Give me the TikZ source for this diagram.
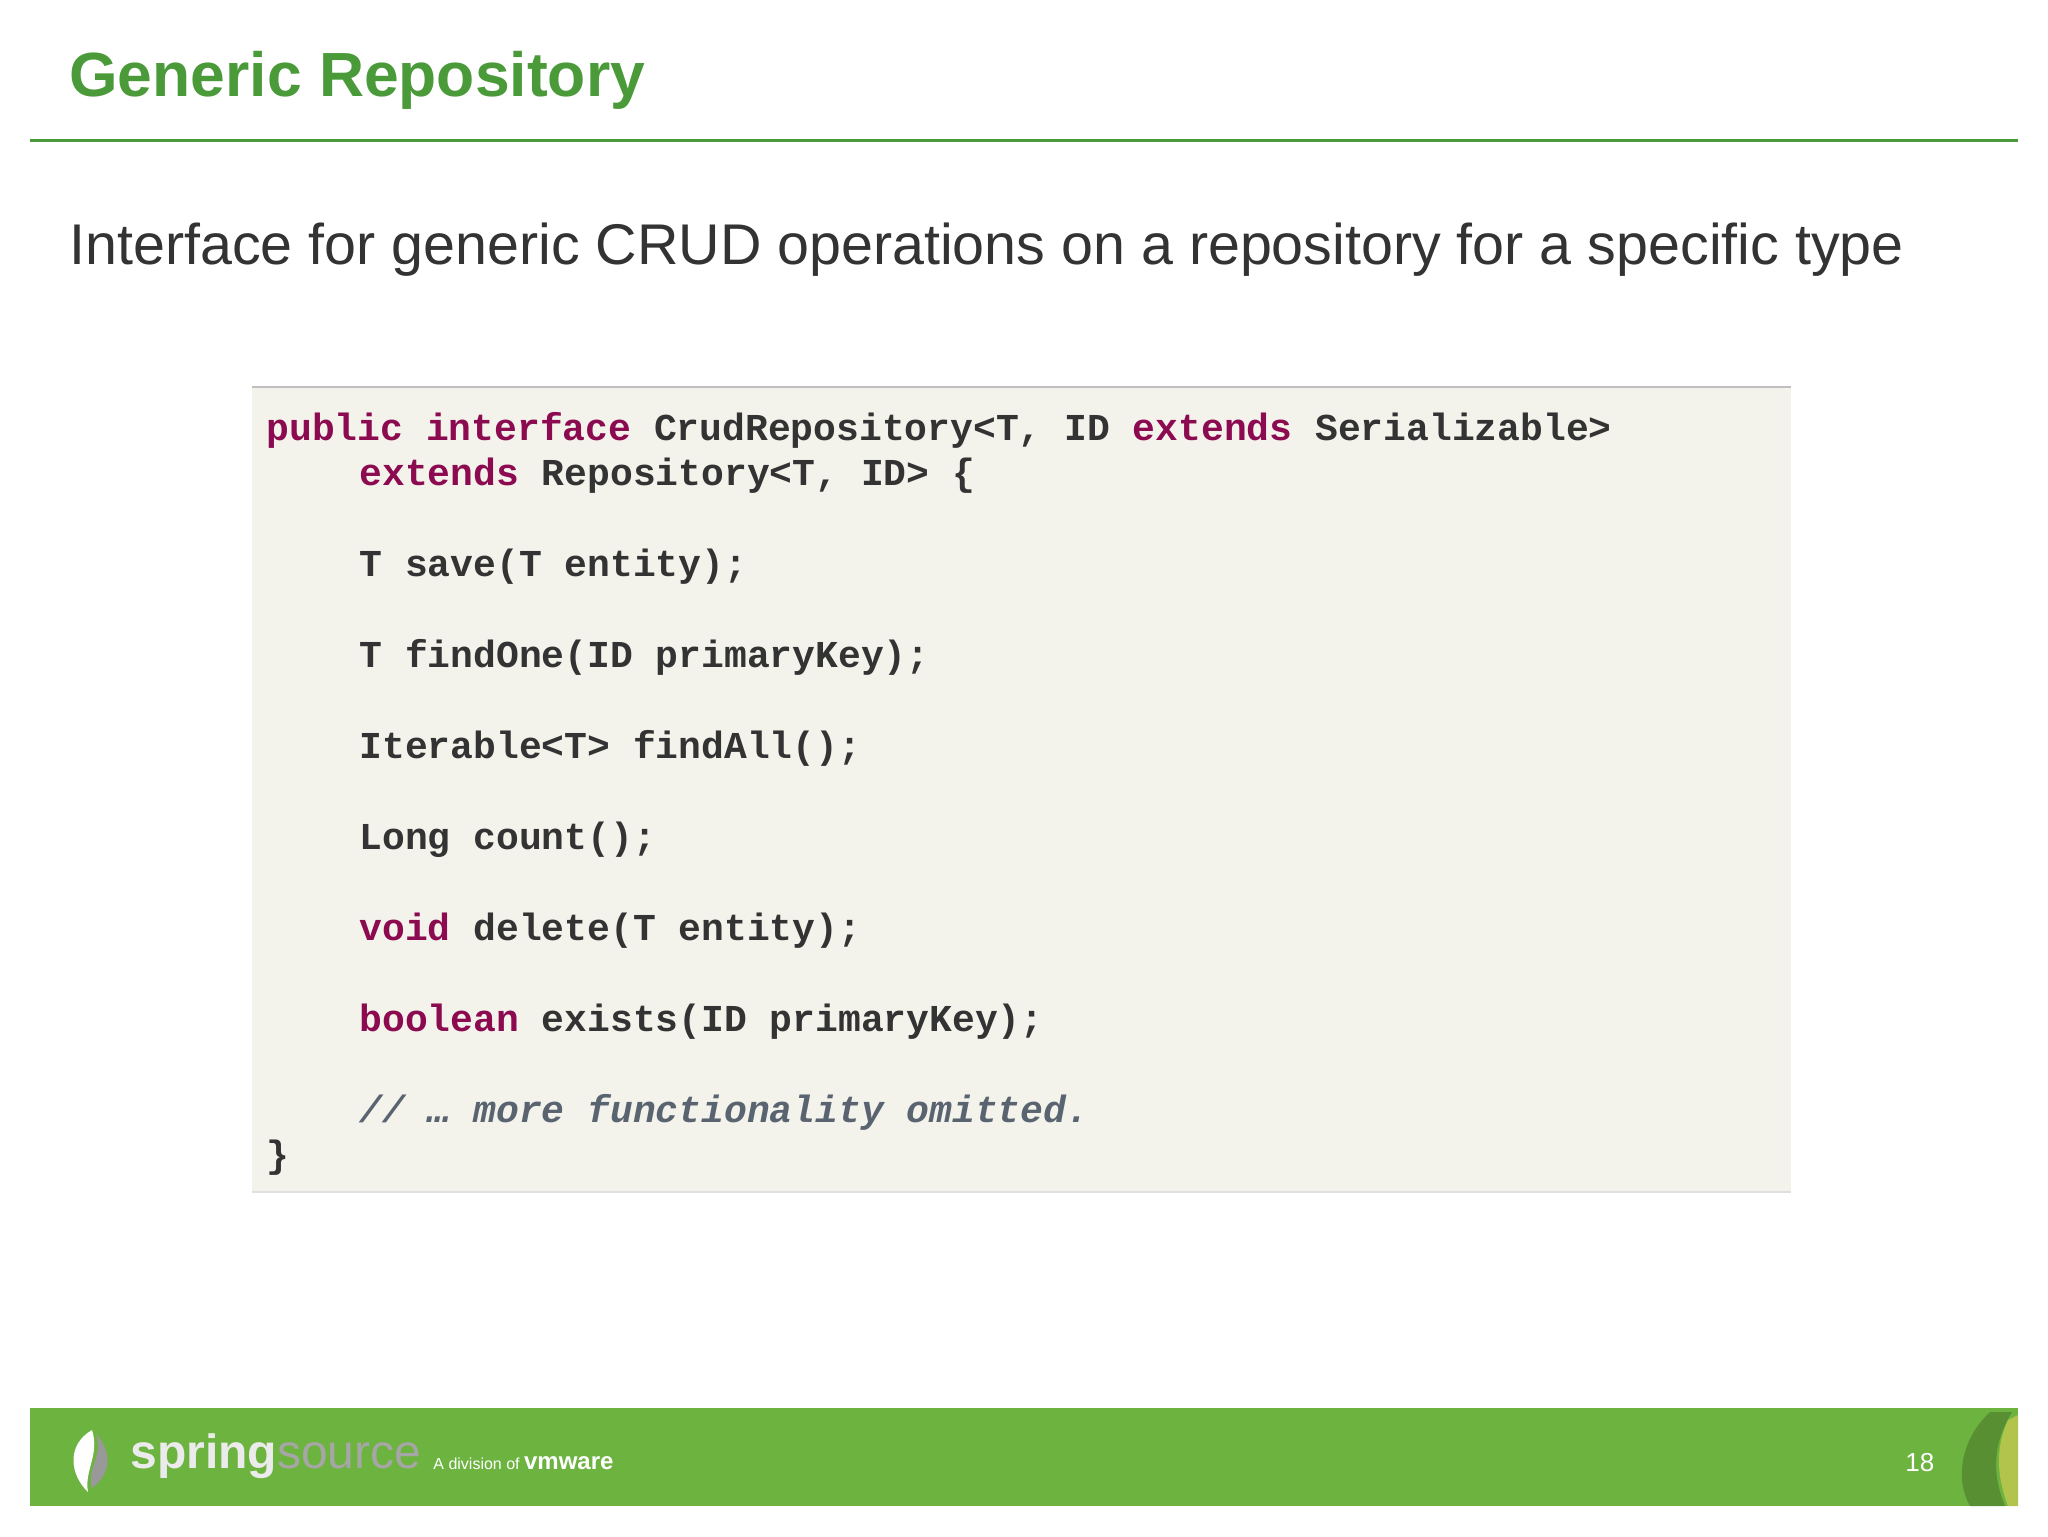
\documentclass[tikz,border=0pt]{standalone}
\usepackage{fontspec}
\setmainfont{Liberation Sans}
\newfontfamily\codefont{Liberation Mono}
\definecolor{sgreen}{HTML}{4A9A3A}
\definecolor{band}{HTML}{6DB33F}
\definecolor{kw}{HTML}{8B0A50}
\definecolor{codebg}{HTML}{F3F3EC}
\definecolor{txt}{HTML}{333333}
\definecolor{cmt}{HTML}{5A6470}
\begin{document}
\begin{tikzpicture}[x=0.5pt,y=-0.5pt,
  code/.style={anchor=base west,inner sep=0pt,font=\codefont\bfseries\fontsize{19}{19}\selectfont,text=txt}]
\useasboundingbox (0,0) rectangle (2048,1536);
\fill[white] (0,0) rectangle (2048,1536);
\node[anchor=base west,inner sep=0pt,font=\bfseries\fontsize{31.2}{31.2}\selectfont,text=sgreen] (title) at (69,97) {Generic Repository};
\draw[sgreen,line width=1.5pt] (30,140) -- (2018,140);
\node[anchor=base west,inner sep=0pt,font=\fontsize{28.7}{28.7}\selectfont,text=txt] (sub) at (69,264) {Interface for generic CRUD operations on a repository for a specific type};
\fill[codebg] (252,387) rectangle (1791,1192);
\draw[gray!50,line width=1pt] (252,387) -- (1791,387);
\draw[gray!25,line width=1pt] (252,1192) -- (1791,1192);
\newcommand\kw[1]{\textcolor{kw}{#1}}
\node[code] (l1) at (266,440) {\kw{public interface} CrudRepository<T, ID \kw{extends} Serializable>};
\node[code] (l2) at (359,485) {\kw{extends} Repository<T, ID> \{};
\node[code] (l3) at (359,576) {T save(T entity);};
\node[code] (l4) at (359,667) {T findOne(ID primaryKey);};
\node[code] (l5) at (359,758) {Iterable<T> findAll();};
\node[code] (l6) at (359,849) {Long count();};
\node[code] (l7) at (359,940) {\kw{void} delete(T entity);};
\node[code] (l8) at (359,1031) {\kw{boolean} exists(ID primaryKey);};
\node[code,text=cmt] (l9) at (359,1122) {\itshape // … more functionality omitted.};
\node[code] (l10) at (266,1167) {\}};
\fill[band] (30,1408) rectangle (2018,1506);
\fill[band!80!black] (1990,1412) .. controls (1960,1440) and (1955,1480) .. (1970,1506) -- (2005,1506) .. controls (1990,1470) and (1995,1440) .. (2012,1412) -- cycle;
\fill[yellow!40!band] (2008,1420) .. controls (1994,1450) and (1998,1480) .. (2008,1506) -- (2018,1506) -- (2018,1415) -- cycle;
\fill[white] (92,1430) .. controls (66,1445) and (70,1475) .. (88,1492) .. controls (84,1470) and (100,1455) .. (92,1430) -- cycle;
\fill[gray!80] (96,1434) .. controls (104,1455) and (86,1470) .. (92,1488) .. controls (114,1472) and (110,1448) .. (96,1434) -- cycle;
\node[anchor=base west,inner sep=0pt,font=\bfseries\fontsize{24}{24}\selectfont] (logo) at (130,1468) {\textcolor{white!92!black}{spring}\textcolor{gray!70}{\mdseries source}};
\node[anchor=base west,inner sep=0pt,font=\fontsize{8}{8}\selectfont,text=white] (div) at (433,1469) {A division of \textbf{\fontsize{12}{12}\selectfont vmware}};
\node[anchor=base west,inner sep=0pt,font=\fontsize{13}{13}\selectfont,text=white] (num) at (1905,1471) {18};
\end{tikzpicture}
\end{document}
